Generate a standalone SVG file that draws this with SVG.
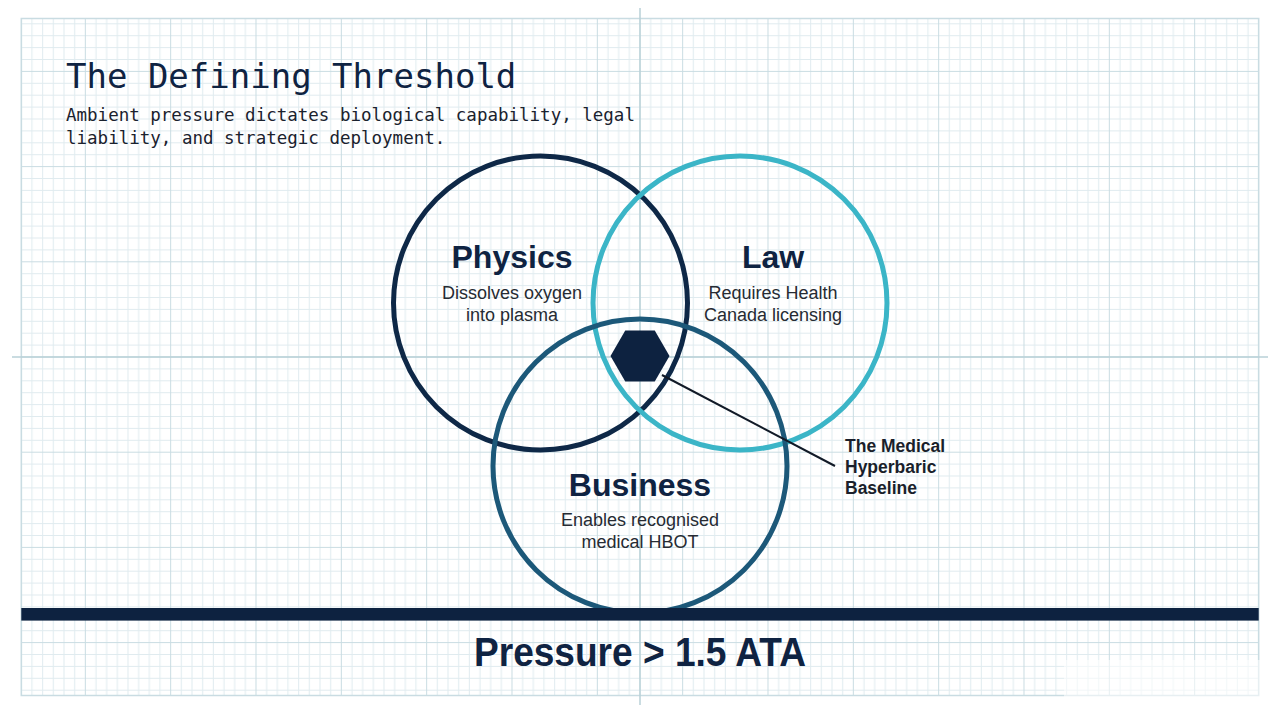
<svg xmlns="http://www.w3.org/2000/svg" width="1280" height="714" viewBox="0 0 1280 714">
  <style>
    .mono { font-family: "DejaVu Sans Mono", "Liberation Mono", monospace; }
    .sans { font-family: "Liberation Sans", Arial, sans-serif; }
    .head { font-weight: bold; fill: #0f2342; text-anchor: middle; }
    .body { fill: #262b33; text-anchor: middle; font-size: 18px; }
    .ring { fill: none; stroke-width: 5; }
  </style>
  <defs>
    <pattern id="grid" patternUnits="userSpaceOnUse" x="-0.5" y="-24.3" width="85.333" height="95.2">
      <g stroke="#e0ebef" stroke-width="1">
        <path d="M11.17 0V95.2M21.83 0V95.2M32.5 0V95.2M43.17 0V95.2M53.83 0V95.2M64.5 0V95.2M75.17 0V95.2"/>
        <path d="M0 12.4H85.333M0 24.3H85.333M0 36.2H85.333M0 48.1H85.333M0 60H85.333M0 71.9H85.333M0 83.8H85.333"/>
      </g>
      <g stroke="#c9dce2" stroke-width="1">
        <path d="M0.5 0V95.2M0 0.5H85.333"/>
      </g>
    </pattern>
  </defs>

  <rect width="1280" height="714" fill="#ffffff"/>

  <g id="grid-paper">
    <rect x="21.3" y="18.5" width="1237.4" height="677" fill="url(#grid)"/>
    <rect x="21.3" y="18.5" width="1237.4" height="677" fill="none" stroke="#c9dce2" stroke-width="1.5"/>
    <line x1="640" y1="8" x2="640" y2="705" stroke="#b8d0d7" stroke-width="1.5"/>
    <line x1="12" y1="357" x2="1268" y2="357" stroke="#b8d0d7" stroke-width="1.5"/>
    <rect x="1064" y="660" width="216" height="54" fill="#ffffff" opacity="0.55"/>
  </g>

  <g id="title">
    <text class="mono" x="66" y="88" font-size="34" fill="#0f2342">The Defining Threshold</text>
    <text class="mono" x="66" y="121" font-size="17.5" fill="#1a222e">Ambient pressure dictates biological capability, legal</text>
    <text class="mono" x="66" y="144" font-size="17.5" fill="#1a222e">liability, and strategic deployment.</text>
  </g>

  <g id="physics">
    <circle class="ring" cx="540.5" cy="303" r="147" stroke="#0e2847"/>
    <text class="sans head" x="512" y="268" font-size="32">Physics</text>
    <text class="sans body" x="512" y="299">Dissolves oxygen</text>
    <text class="sans body" x="512" y="321">into plasma</text>
  </g>

  <g id="law">
    <circle class="ring" cx="740" cy="303" r="147" stroke="#3bb5c7"/>
    <text class="sans head" x="773" y="268" font-size="32">Law</text>
    <text class="sans body" x="773" y="299">Requires Health</text>
    <text class="sans body" x="773" y="321">Canada licensing</text>
  </g>

  <g id="business">
    <circle class="ring" cx="640" cy="466" r="147" stroke="#1c5879"/>
    <text class="sans head" x="640" y="496" font-size="32">Business</text>
    <text class="sans body" x="640" y="526">Enables recognised</text>
    <text class="sans body" x="640" y="548">medical HBOT</text>
  </g>

  <g id="connectors">
    <line x1="662" y1="375" x2="835" y2="466" stroke="#111a27" stroke-width="2"/>
  </g>

  <g id="baseline-core">
    <polygon points="669.5,356 654.75,330.5 625.25,330.5 610.5,356 625.25,381.5 654.75,381.5" fill="#0d2240"/>
  </g>

  <g id="baseline-label">
    <text class="sans" x="845" y="452" font-size="17.5" font-weight="bold" fill="#1a1f2b">The Medical</text>
    <text class="sans" x="845" y="473" font-size="17.5" font-weight="bold" fill="#1a1f2b">Hyperbaric</text>
    <text class="sans" x="845" y="494" font-size="17.5" font-weight="bold" fill="#1a1f2b">Baseline</text>
  </g>

  <g id="threshold">
    <rect x="21.3" y="608" width="1237.4" height="12.6" fill="#0d2240"/>
    <text class="sans" x="640" y="666" font-size="40" font-weight="bold" fill="#0f2342" text-anchor="middle" textLength="332" lengthAdjust="spacingAndGlyphs">Pressure &gt; 1.5 ATA</text>
  </g>
</svg>
